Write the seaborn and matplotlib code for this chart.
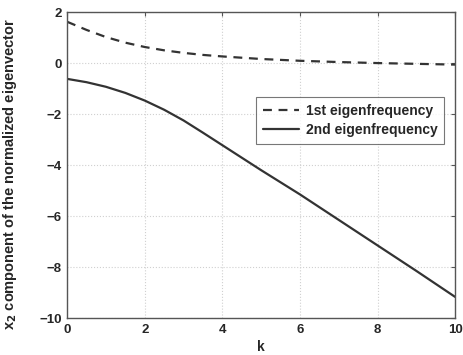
import pandas as pd
import matplotlib
matplotlib.use('Agg')
import matplotlib.pyplot as plt
import seaborn as sns

# значения
k = [0, 0.5, 1, 1.5, 2, 2.5, 3, 3.5, 4, 5, 6, 7, 8, 9, 10]
first_freq = [1.62, 1.3, 1.02, 0.8, 0.63, 0.5, 0.4, 0.32, 0.26, 0.16, 0.09, 0.04, 0.0, -0.03, -0.06]
second_freq = [-0.62, -0.75, -0.93, -1.17, -1.47, -1.83, -2.25, -2.73, -3.22, -4.2, -5.15, -6.15, -7.15, -8.15, -9.17]

df = pd.DataFrame({'k': k, 'first': first_freq, 'second': second_freq})

sns.set_style('white')
plt.rcParams['font.family'] = ['Liberation Sans', 'DejaVu Sans']
plt.rcParams['font.weight'] = 'bold'

fig = plt.figure(figsize=(4.63, 3.55), dpi=100)
ax = fig.add_axes([0.145, 0.104, 0.838, 0.862])

sns.lineplot(data=df, x='k', y='first', ax=ax, color='#333333', lw=1.6,
             linestyle=(0, (4, 3)), label='1st eigenfrequency')
sns.lineplot(data=df, x='k', y='second', ax=ax, color='#333333', lw=1.6,
             label='2nd eigenfrequency')

ax.set_xlim(0, 10)
ax.set_ylim(-10, 2)
ax.set_xticks([0, 2, 4, 6, 8, 10])
ax.set_yticks([-10, -8, -6, -4, -2, 0, 2])
ax.grid(True, linestyle=':', color='#d0d0d0', lw=0.8)
ax.tick_params(direction='in', top=True, right=True, labelsize=9.5, length=3,
               color='#555555', pad=4)
for s in ax.spines.values():
    s.set_color('#555555')
    s.set_linewidth(1.0)

ax.set_xlabel('k', fontsize=10, fontweight='bold', labelpad=3)
ax.set_ylabel('x$_2$ component of the normalized eigenvector', fontsize=10.5, fontweight='bold')
ax.yaxis.set_label_coords(-0.125, 0.47)

leg = ax.legend(loc='upper right', bbox_to_anchor=(0.99, 0.745),
                prop={'family': ['Liberation Sans', 'DejaVu Sans'], 'weight': 'bold', 'size': 10},
                frameon=True, fancybox=False, edgecolor='#555555', handlelength=2.6,
                borderpad=0.5, labelspacing=0.35, handletextpad=0.5)
leg.get_frame().set_linewidth(0.8)

fig.savefig('out.png', dpi=100)
